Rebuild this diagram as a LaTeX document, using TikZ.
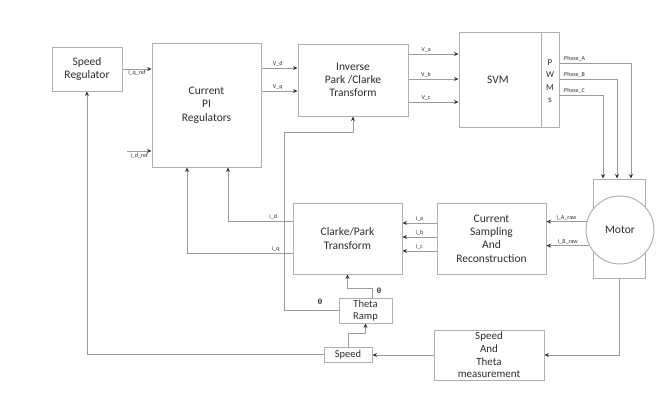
\documentclass[tikz,border=0pt]{standalone}
\usepackage{fontspec}
\setmainfont{Carlito}
\usetikzlibrary{arrows.meta,calc}
\definecolor{bordc}{HTML}{B0B0B0}
\definecolor{linec}{HTML}{9C9C9C}
\definecolor{txtc}{HTML}{2E2E2E}
\tikzset{
  blk/.style={draw=bordc,line width=1pt,fill=white,text=txtc,align=center,inner sep=1pt,
    font=\fontsize{11.5}{13.3}\selectfont},
  arr/.style={draw=linec,line width=1pt,-{Stealth[length=4.5pt,width=4pt,color=black!80]}},
  ln/.style={draw=linec,line width=1pt},
  lbl/.style={text=txtc,font=\fontsize{6}{6.5}\selectfont,inner sep=1pt},
  thl/.style={text=txtc,font=\bfseries\fontsize{8}{9}\selectfont,inner sep=1pt}
}
\begin{document}
\begin{tikzpicture}[x=1pt,y=-1pt]
\useasboundingbox[fill=white] (0,0) rectangle (656,397);
% blocks
\node[blk,minimum width=70pt,minimum height=44pt] (SR) at (87,69) {Speed\\Regulator};
\node[blk,minimum width=109pt,minimum height=124pt] (PI) at (206.5,105) {Current\\PI\\Regulators};
\node[blk,minimum width=110pt,minimum height=72pt] (IP) at (353,80) {Inverse\\Park /Clarke\\Transform};
\node[blk,minimum width=100pt,minimum height=95pt] (SVM) at (509,79.5) {};
\node[text=txtc,font=\fontsize{11.5}{13}\selectfont] (svmt) at (498,79.5) {SVM};
\draw[draw=bordc,line width=1pt] (SVM.north -| 541,0) -- (SVM.south -| 541,0);
\node[text=txtc,align=center,font=\fontsize{9}{12.5}\selectfont,inner sep=0pt] (pwm) at (550,81) {P\\W\\M\\s};
\node[blk,minimum width=52pt,minimum height=99pt] (MR) at (619,228.5) {};
\node[blk,circle,minimum size=68pt] (MC) at (620,230) {Motor};
\node[blk,minimum width=109pt,minimum height=71pt] (CL) at (347.5,238.5) {Clarke/Park\\Transform};
\node[blk,minimum width=109pt,minimum height=71pt] (CS) at (491.5,238.5) {Current\\Sampling\\And\\Reconstruction};
\node[blk,minimum width=53pt,minimum height=25pt,font=\fontsize{10.5}{11.5}\selectfont] (TR) at (365.5,310.5) {Theta\\Ramp};
\node[blk,minimum width=48pt,minimum height=15pt,font=\fontsize{10.5}{11}\selectfont] (SP) at (348,354.5) {Speed};
\node[blk,minimum width=110pt,minimum height=50pt,font=\fontsize{11}{12.6}\selectfont] (ST) at (489,355) {Speed\\And\\Theta\\measurement};
% regulator connections
\draw[arr] (SR.east) -- node[lbl,below]{i\_q\_ref} (SR.east -| PI.west);
\coordinate (idr) at (127,151);
\draw[arr] (idr) -- node[lbl,below=1pt]{i\_d\_ref} (idr -| PI.west);
\draw[arr] (PI.east |- 0,68) -- node[lbl,above,pos=0.45]{V\_d} (IP.west |- 0,68);
\draw[arr] (PI.east |- 0,91) -- node[lbl,above,pos=0.45]{V\_q} (IP.west |- 0,91);
\draw[arr] (IP.east |- 0,54) -- node[lbl,above,pos=0.35]{V\_a} (SVM.west |- 0,54);
\draw[arr] (IP.east |- 0,79) -- node[lbl,above,pos=0.35]{V\_b} (SVM.west |- 0,79);
\draw[arr] (IP.east |- 0,102) -- node[lbl,above,pos=0.35]{V\_c} (SVM.west |- 0,102);
% phases
\draw[arr] (SVM.east |- 0,63) -| (MR.north -| 631,0);
\draw[arr] (SVM.east |- 0,79) -| (MR.north -| 617,0);
\draw[arr] (SVM.east |- 0,95) -| (MR.north -| 603,0);
\node[lbl,anchor=south west] (pa) at (563,63) {Phase\_A};
\node[lbl,anchor=south west] (pb) at (563,79) {Phase\_B};
\node[lbl,anchor=south west] (pc) at (563,95) {Phase\_C};
% motor currents
\draw[arr] (MC.166) -- node[lbl,above]{i\_A\_raw} (MC.166 -| CS.east);
\draw[arr] (MC.207) -- node[lbl,above]{i\_B\_raw} (MC.207 -| CS.east);
\draw[arr] (CS.west |- 0,223) -- node[lbl,above]{i\_a} (CL.east |- 0,223);
\draw[arr] (CS.west |- 0,237) -- node[lbl,above]{i\_b} (CL.east |- 0,237);
\draw[arr] (CS.west |- 0,251) -- node[lbl,above]{i\_c} (CL.east |- 0,251);
% feedback currents
\draw[arr] (CL.west |- 0,221) -| node[lbl,above,pos=0.15]{i\_d} (PI.south -| 228,0);
\draw[arr] (CL.west |- 0,253) -| node[lbl,above,pos=0.08]{i\_q} (PI.south -| 187,0);
% theta paths
\draw[arr] (TR.west) -| (284,132) -| (IP.south);
\draw[arr] (TR.north -| 372,0) |- (CL.south |- 0,288) -- (CL.south);
\node[thl] (th1) at (320,302) {θ};
\node[thl] (th2) at (379,291) {θ};
% speed paths
\draw[arr] (MR.south) |- (ST.east);
\draw[arr] (ST.west) -- (ST.west -| SP.east);
\draw[arr] (SP.west) -| (SR.south);
\draw[arr] (SP.north) |- (TR.south |- 0,333) -- (TR.south);
\end{tikzpicture}
\end{document}
